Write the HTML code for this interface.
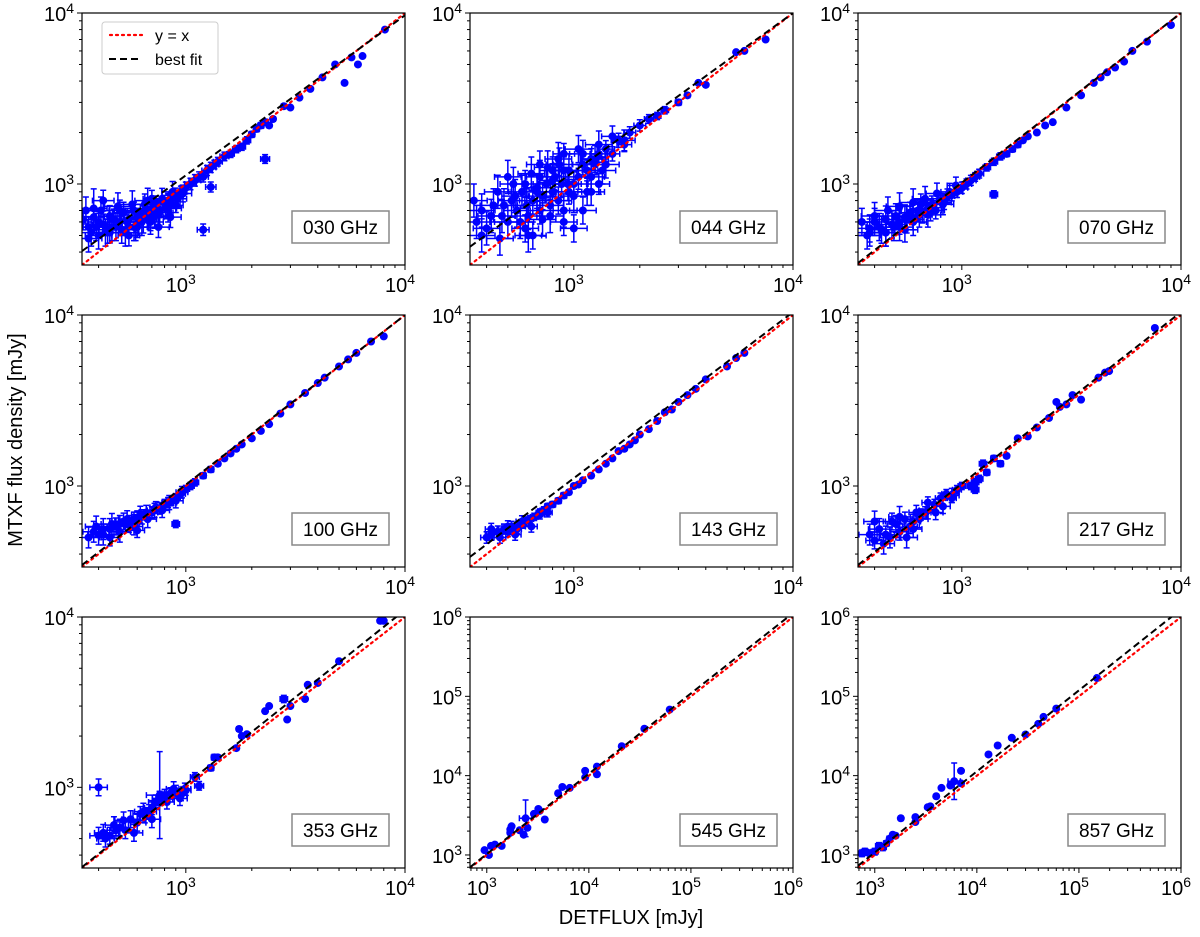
<!DOCTYPE html>
<html><head><meta charset="utf-8"><style>
body{margin:0;background:#fff}
svg text{font-family:"Liberation Sans","DejaVu Sans",sans-serif}
</style></head><body>
<svg id="fig" width="1200" height="932" viewBox="0 0 1200 932" xmlns="http://www.w3.org/2000/svg">
<text x="22" y="440" font-size="20" text-anchor="middle" transform="rotate(-90 22 440)">MTXF flux density [mJy]</text>
<text x="631" y="924" font-size="20" text-anchor="middle">DETFLUX [mJy]</text>
</svg>
<script>
const panelLabels=["030 GHz","044 GHz","070 GHz","100 GHz","143 GHz","217 GHz","353 GHz","545 GHz","857 GHz"];
const fitLo=[405,430,345,345,385,345,340,700,730];
const fitHi=[9700,10000,10000,10000,10400,10400,11000,1120000,1250000];
const x030=[340,360,380,400,420,450,470,500,520,550,580,600,620,650,680,700,730,760,800,830,860,900,950,1000,1050,1100,1150,1200,1250,1300,1350,1400,1500,1600,1700,1800,1900,2000,2100,2200,2300,2400,2500,2800,3000,3300,3700,4200,4800,5300,5700,6100,6400,8100,380,450,550,650,750,850,1200,1300,2300,420,500,600,700,900,
350,370,390,410,430,460,490,510,540,570,590,610,640,670,690,720,750,780,810,840,870,920,970,360,400,440,480,530,580,630,690,760,830];
const y030=[620,560,640,600,580,650,620,600,680,620,700,640,680,700,660,720,760,700,780,800,820,860,900,950,1000,1050,1100,1100,1200,1250,1300,1350,1450,1500,1600,1650,1800,1950,2100,2200,2300,2200,2400,2850,2800,3200,3600,4200,5000,3900,5500,5000,5600,8000,720,520,500,760,560,640,540,960,1400,800,700,560,820,750,
700,520,560,700,520,560,740,540,600,760,560,600,620,800,600,650,680,820,720,760,900,820,880,480,500,540,560,520,560,600,640,680,720];
const e030=[0.15,0.15,0.15,0.15,0.15,0.15,0.15,0.15,0.15,0.12,0.12,0.12,0.12,0.12,0.12,0.12,0.12,0.1,0.1,0.1,0.1,0.1,0.08,0.08,0.08,0.08,0.07,0.07,0.07,0.07,0.06,0.06,0.06,0.05,0.05,0.05,0.05,0.04,0.04,0.04,0.04,0.03,0.03,0.03,0.02,0,0,0,0,0,0,0,0,0,0.3,0.15,0.15,0.15,0.15,0.15,0.08,0.07,0.06,0.15,0.15,0.15,0.12,0.1,
0.2,0.2,0.2,0.2,0.2,0.2,0.2,0.2,0.2,0.2,0.2,0.2,0.2,0.18,0.18,0.18,0.18,0.15,0.15,0.15,0.15,0.12,0.12,0.2,0.2,0.2,0.2,0.2,0.2,0.2,0.2,0.2,0.2];
const x044=[350,380,420,450,480,500,520,550,580,600,620,650,680,700,720,750,780,800,820,850,880,900,950,1000,1050,1100,1150,1200,1250,1300,1400,1500,1600,1700,1800,2000,2200,2400,2600,3000,3300,3700,4000,5500,6000,7500,700,800,900,1000,1100,1200,600,650,900,1300,
360,400,430,470,500,540,570,610,640,680,720,760,800,850,900,950,1000,1100,1200,1300,1400,1500,1700,380,460,530,620,700,780,860,940,1050,1150,1250,1350];
const y044=[800,700,650,900,750,600,800,700,900,1000,650,800,950,700,850,1000,750,900,1100,800,1000,1200,900,1000,1100,1300,1200,1400,1300,1500,1600,1500,1800,1700,2000,2200,2400,2500,2700,3000,3300,3900,3800,5900,6000,7000,1300,1200,600,550,700,900,550,500,1500,1000,
600,550,750,650,1100,850,600,750,1150,900,620,1250,1050,1400,700,1200,850,1500,1100,1700,1300,1900,1800,500,480,1000,500,1100,650,1300,1000,1600,900,1400,1200];
const e044=[0.25,0.25,0.25,0.25,0.25,0.25,0.25,0.25,0.25,0.2,0.2,0.2,0.2,0.2,0.2,0.2,0.2,0.2,0.2,0.2,0.2,0.2,0.18,0.18,0.18,0.15,0.15,0.15,0.15,0.12,0.12,0.1,0.1,0.1,0.08,0.08,0.06,0.05,0.05,0.04,0.03,0,0,0,0,0,0.2,0.2,0.2,0.2,0.2,0.2,0.2,0.2,0.15,0.15,
0.25,0.25,0.25,0.25,0.25,0.25,0.25,0.25,0.25,0.25,0.25,0.25,0.25,0.25,0.25,0.25,0.25,0.2,0.2,0.2,0.2,0.15,0.15,0.25,0.25,0.25,0.25,0.25,0.25,0.25,0.25,0.2,0.2,0.2,0.2];
const x070=[380,400,420,450,480,500,520,550,580,600,630,660,700,730,760,800,830,860,900,950,1000,1050,1100,1150,1200,1300,1400,1500,1600,1700,1800,1900,2000,2200,2400,2600,3000,3500,4000,4300,4600,5000,5500,6000,7000,9000,1400,450,550,650,
350,370,400,430,460,490,520,560,600,640,680,720,770,820,880,940,380,450,520,600,700];
const y070=[550,600,560,620,580,650,600,640,680,620,700,680,720,760,700,800,780,850,860,900,950,1000,1050,1100,1150,1250,1350,1450,1500,1600,1700,1800,1900,2000,2200,2300,2800,3300,3900,4200,4500,4800,5200,6000,6800,8500,870,520,540,760,
600,500,650,540,700,560,740,620,780,660,820,700,880,760,900,980,520,520,560,600,660];
const e070=[0.2,0.2,0.2,0.2,0.2,0.18,0.18,0.18,0.15,0.15,0.15,0.15,0.12,0.12,0.12,0.1,0.1,0.1,0.08,0.08,0.08,0.07,0.07,0.06,0.06,0.05,0.05,0.05,0.04,0.04,0.04,0.03,0.03,0.03,0.02,0.02,0,0,0,0,0,0,0,0,0,0,0.05,0.2,0.18,0.15,
0.2,0.2,0.2,0.2,0.2,0.2,0.2,0.2,0.2,0.18,0.18,0.15,0.15,0.15,0.12,0.12,0.2,0.2,0.2,0.2,0.18];
const x100=[380,400,420,450,480,500,520,550,580,600,630,660,700,730,760,800,830,860,900,950,1000,1050,1100,1200,1300,1400,1500,1600,1700,1800,2000,2200,2400,2700,3000,3500,4000,4300,5000,5500,6000,7000,8000,900,450,600,
360,390,420,460,500,540,580,620,670,720,780,840,900,960];
const y100=[540,520,560,560,580,600,620,600,640,650,660,700,700,750,740,780,800,820,850,900,960,1000,1050,1150,1250,1350,1450,1550,1650,1750,1900,2100,2300,2650,3000,3500,4000,4300,5000,5500,6000,7000,7500,600,500,550,
500,580,520,600,540,640,580,680,640,720,720,800,820,920];
const e100=[0.15,0.15,0.15,0.15,0.12,0.12,0.12,0.12,0.1,0.1,0.1,0.1,0.08,0.08,0.08,0.07,0.07,0.07,0.06,0.06,0.05,0.05,0.05,0.04,0.04,0.03,0.03,0.03,0.02,0.02,0.02,0.02,0,0,0,0,0,0,0,0,0,0,0,0.05,0.12,0.1,
0.15,0.15,0.15,0.15,0.15,0.12,0.12,0.12,0.12,0.1,0.1,0.1,0.1,0.08];
const x143=[400,420,450,480,500,520,550,580,600,630,660,700,730,760,800,850,900,950,1000,1050,1100,1200,1300,1400,1500,1600,1700,1800,1900,2000,2200,2400,2600,2800,3000,3300,3600,4000,5000,5500,6000,
420,460,500,540,580,640,700,760];
const y143=[500,520,540,560,540,580,560,600,620,640,660,700,720,760,780,820,880,920,1000,1020,1080,1150,1250,1350,1450,1600,1650,1750,1850,2000,2150,2400,2700,2800,3100,3400,3700,4200,5000,5600,6000,
560,500,580,520,620,580,680,700];
const e143=[0.08,0.08,0.08,0.07,0.07,0.07,0.06,0.06,0.06,0.05,0.05,0.05,0.05,0.04,0.04,0.04,0.04,0.03,0.03,0.03,0.03,0.03,0.02,0.02,0.02,0.02,0.02,0.02,0.02,0,0,0,0,0,0,0,0,0,0,0,0,
0.08,0.08,0.08,0.08,0.08,0.08,0.06,0.06];
const x217=[380,400,420,450,480,500,520,550,580,600,620,650,680,700,750,800,850,900,950,1000,1100,1150,1200,1300,1400,1500,1600,1800,2000,2200,2500,2700,2800,3000,3200,3500,4200,4500,4700,7600,1150,1250,
400,440,470,520,560,600,640,700,760,820,900];
const y217=[520,480,560,520,620,600,540,640,580,620,700,680,700,800,780,850,900,850,950,1000,1000,1050,1100,1200,1450,1350,1500,1900,1950,2200,2500,3100,2900,3000,3400,3200,4300,4600,4700,8400,950,1350,
620,460,500,660,500,560,640,720,700,760,880];
const e217=[0.15,0.12,0.15,0.12,0.12,0.12,0.12,0.1,0.1,0.1,0.1,0.08,0.08,0.08,0.07,0.07,0.06,0.06,0.06,0.05,0.05,0.05,0.05,0.04,0.04,0.04,0.03,0.02,0.02,0.02,0,0,0,0,0,0,0,0,0,0,0.05,0.05,
0.15,0.15,0.15,0.15,0.15,0.12,0.12,0.12,0.1,0.1,0.1];
const x353=[400,420,450,480,500,530,560,600,620,650,680,700,730,760,800,850,900,950,1000,1100,1150,1300,1350,1400,1700,1750,1800,1900,2300,2400,2800,2900,3000,3500,3600,4000,5000,7700,8000,
430,470,520,580,640,700,760,820,880,940,990,760,400];
const y353=[520,540,520,560,580,560,650,620,700,680,720,760,820,860,900,920,950,900,960,1150,1020,1300,1500,1500,1700,2200,2000,2050,2800,3000,3300,2500,3000,3300,4000,4100,5500,9500,9500,
500,600,640,540,720,650,860,820,980,860,980,900,1000];
const e353=[0.12,0.12,0.12,0.12,0.12,0.12,0.12,0.12,0.1,0.1,0.1,0.1,0.1,0.1,0.08,0.08,0.08,0.08,0.07,0.06,0.06,0.04,0.04,0.03,0.03,0.03,0.02,0.02,0.02,0.02,0.05,0.02,0,0,0,0,0,0,0,
0.12,0.12,0.12,0.12,0.12,0.12,0.1,0.1,0.1,0.1,0.08,0.8,0.12];
const x545=[950,1050,1100,1200,1400,1700,1750,1700,2100,2300,2400,2500,2900,3200,3300,3700,5000,5500,6500,9200,9200,12000,12000,21000,35000,62000];
const y545=[1150,1000,1300,1350,1300,2100,2300,1900,2050,1800,2900,2200,3300,3800,3600,2800,6000,7200,7000,11500,9500,13000,10400,23500,39000,68000];
const e545=[0.05,0.05,0.05,0.05,0.04,0.04,0.03,0.03,0.03,0.03,0.7,0.03,0,0,0,0,0,0,0,0,0,0,0,0,0,0];
const x857=[750,800,900,1000,1100,1200,1300,1400,1500,1600,1800,2500,2500,3300,3500,4000,4500,5500,6000,7000,7000,13000,16000,22000,30000,40000,45000,60000,150000];
const y857=[1050,1100,1050,1100,1300,1250,1400,1600,1800,1750,2900,2600,3000,4000,4100,5500,7000,7500,8500,8000,11500,18500,24000,30000,33000,45000,55000,70000,170000];
const e857=[0.1,0.1,0.1,0.1,0.1,0.1,0.08,0.08,0.06,0.06,0.06,0.03,0.03,0,0,0,0,0,0.7,0,0,0,0,0,0,0,0,0,0];
const seriesX=[x030,x044,x070,x100,x143,x217,x353,x545,x857];
const seriesY=[y030,y044,y070,y100,y143,y217,y353,y545,y857];
const seriesE=[e030,e044,e070,e100,e143,e217,e353,e545,e857];

const NS="http://www.w3.org/2000/svg";
const svg=document.getElementById('fig');
const cols=[[82,405],[470,793],[858,1181]];
const rows=[[13,265],[315,567],[617,868]];
function mk(tag,attrs,parent){const e=document.createElementNS(NS,tag);for(const k in attrs)e.setAttribute(k,attrs[k]);(parent||svg).appendChild(e);return e;}
for(let p=0;p<9;p++){
  const c=cols[p%3],r=rows[Math.floor(p/3)];
  const big=p>=7;
  const lo=big?Math.log10(685):Math.log10(336), hi=big?6:4;
  const X=v=>c[0]+(Math.log10(v)-lo)/(hi-lo)*(c[1]-c[0]);
  const Y=v=>r[1]-(Math.log10(v)-lo)/(hi-lo)*(r[1]-r[0]);
  const g=mk('g',{});
  
  
  const clipId='clip'+p;
  const cp=mk('clipPath',{id:clipId},g);mk('rect',{x:c[0],y:r[0],width:c[1]-c[0],height:r[1]-r[0]},cp);
  const plot=mk('g',{'clip-path':'url(#'+clipId+')'},g);
  const xs=seriesX[p],ys=seriesY[p],es=seriesE[p];
  for(let i=0;i<xs.length;i++){
    const x=xs[i],y=ys[i],e=es[i];
    if(e>0){
      const ex=Math.min(e*0.8,0.15);
      const eb=mk('path',{d:`M${X(x/(1+ex))},${Y(y)}H${X(x*(1+ex))}M${X(x)},${Y(y/(1+e))}V${Y(y*(1+e))}M${X(x)-3},${Y(y/(1+e))}h6M${X(x)-3},${Y(y*(1+e))}h6M${X(x/(1+ex))},${Y(y)-3}v6M${X(x*(1+ex))},${Y(y)-3}v6`,stroke:'#0000ff','stroke-width':1.5,fill:'none'},plot);
      
      
    }
    const pt=mk('circle',{cx:X(x),cy:Y(y),r:4,fill:'#0000ff'},plot);
    
    
  }
  const lv=Math.pow(10,lo),hv=Math.pow(10,hi);
  const idl=mk('line',{x1:X(lv),y1:Y(lv),x2:X(hv),y2:Y(hv),stroke:'#ff0000','stroke-width':2.2,'stroke-dasharray':'2,4','stroke-linecap':'round'},plot);
  
  
  const fl=mk('line',{x1:X(lv),y1:Y(fitLo[p]),x2:X(hv),y2:Y(fitHi[p]),stroke:'#000','stroke-width':2,'stroke-dasharray':'7,4'},plot);
  
  
  mk('rect',{x:c[0],y:r[0],width:c[1]-c[0],height:r[1]-r[0],fill:'none',stroke:'#000','stroke-width':1.2},g);
  for(let d=Math.floor(lo);d<=hi;d++){
    for(let k=1;k<10;k++){
      const v=k*Math.pow(10,d),lv2=Math.log10(v);
      if(lv2<lo-1e-9||lv2>hi+1e-9)continue;
      const L=k===1?5:3;
      mk('line',{x1:X(v),y1:r[1],x2:X(v),y2:r[1]+L,stroke:'#000','stroke-width':1},g);
      mk('line',{x1:c[0],y1:Y(v),x2:c[0]-L,y2:Y(v),stroke:'#000','stroke-width':1},g);
      if(k===1){
        const tx=mk('text',{x:X(v)-5,y:r[1]+27,'font-size':20,'text-anchor':'middle'},g);
        
        
        tx.innerHTML='10<tspan font-size="14" dy="-8">'+d+'</tspan>';
        const ty=mk('text',{x:c[0]-8,y:Y(v)+8,'font-size':20,'text-anchor':'end'},g);
        
        
        ty.innerHTML='10<tspan font-size="14" dy="-8">'+d+'</tspan>';
      }
    }
  }
  const bx=c[1]-113,by=r[1]-54;
  const lb=mk('rect',{x:bx,y:by,width:97,height:32,fill:'#fff',stroke:'#888','stroke-width':1.5},g);
  
  
  const lt=mk('text',{x:bx+48.5,y:by+23,'font-size':19,'text-anchor':'middle'},g);
  
  
  lt.textContent=panelLabels[p];
}
const lg=mk('g',{});


mk('rect',{x:102,y:22,width:116,height:52,rx:3,fill:'#fff',stroke:'#ccc','stroke-width':1},lg);
mk('line',{x1:110,y1:35,x2:142,y2:35,stroke:'#ff0000','stroke-width':2.2,'stroke-dasharray':'2,4','stroke-linecap':'round'},lg);
mk('line',{x1:109,y1:59,x2:142,y2:59,stroke:'#000','stroke-width':2,'stroke-dasharray':'7,4'},lg);
const t1=mk('text',{x:155,y:41,'font-size':16},lg);t1.textContent='y = x';


const t2=mk('text',{x:155,y:65,'font-size':16},lg);t2.textContent='best fit';


</script>
</body></html>
